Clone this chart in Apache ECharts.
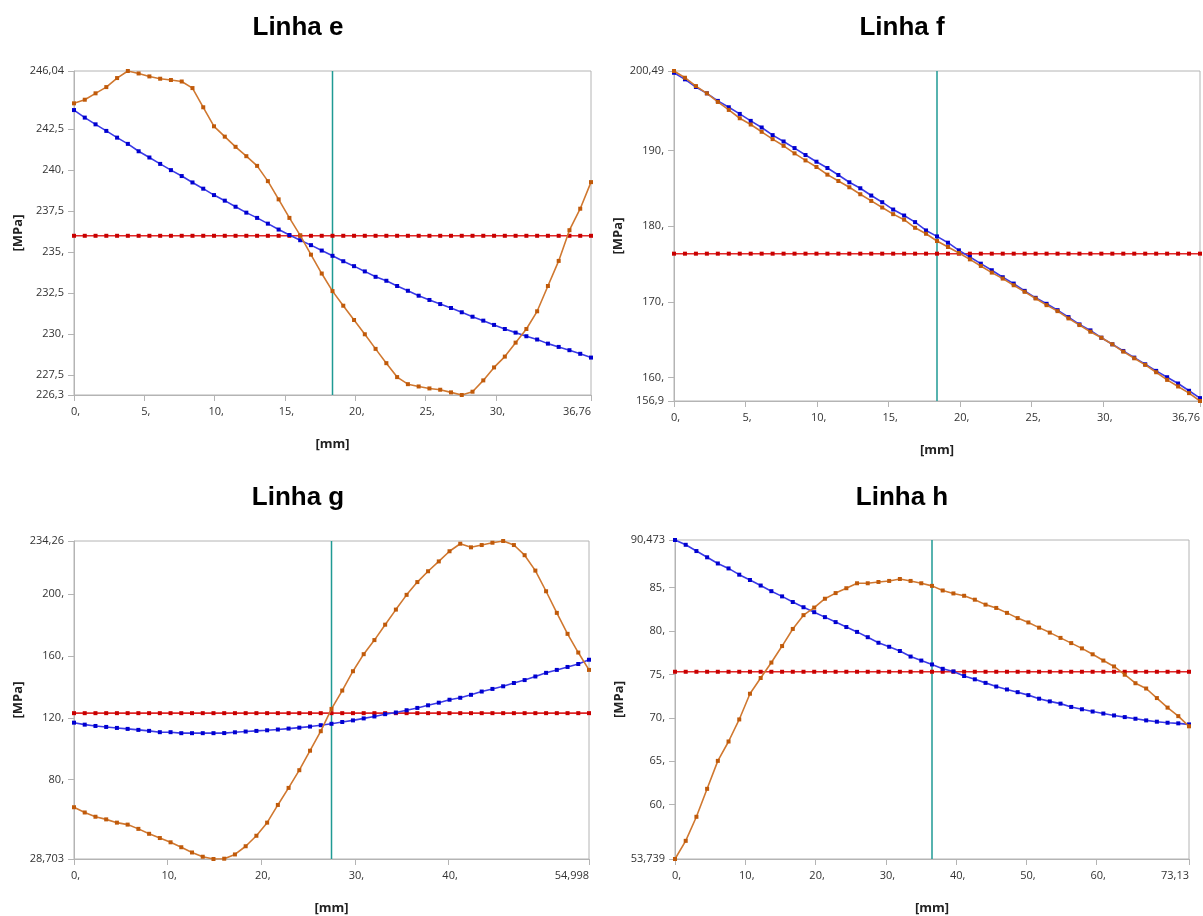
<!DOCTYPE html>
<html>
<head>
<meta charset="utf-8">
<title>Linhas e-h</title>
<script src="https://cdn.jsdelivr.net/npm/echarts@6/dist/echarts.min.js"></script>
<style>
  html, body { margin: 0; padding: 0; background: #fff; }
  #chart { width: 1203px; height: 916px; }
</style>
</head>
<body>
<div id="chart"></div>
<script>
// panel titles
const titles = ['Linha e', 'Linha f', 'Linha g', 'Linha h'];

// x length of each line [mm] (49 samples each)
const lengths = [36.76, 36.76, 54.998, 73.13];

// y axis limits [MPa]
const yMins = [226.3, 156.9, 28.703, 53.739];
const yMaxs = [246.04, 200.49, 234.26, 90.473];

// tick labels
const xTicksE = [0, 5, 10, 15, 20, 25, 30, 36.76];
const xTicksF = [0, 5, 10, 15, 20, 25, 30, 36.76];
const xTicksG = [0, 10, 20, 30, 40, 54.998];
const xTicksH = [0, 10, 20, 30, 40, 50, 60, 73.13];
const yTicksE = [226.3, 227.5, 230, 232.5, 235, 237.5, 240, 242.5, 246.04];
const yTicksF = [156.9, 160, 170, 180, 190, 200.49];
const yTicksG = [28.703, 80, 120, 160, 200, 234.26];
const yTicksH = [53.739, 60, 65, 70, 75, 80, 85, 90.473];

// orange curves
const orangeE = [244.07, 244.29, 244.68, 245.06, 245.61, 246.04, 245.89, 245.71, 245.57, 245.49,
  245.40, 245.00, 243.83, 242.67, 242.04, 241.42, 240.85, 240.26, 239.33, 238.22,
  237.09, 236.03, 234.85, 233.70, 232.63, 231.74, 230.87, 230.00, 229.11, 228.24,
  227.39, 226.96, 226.82, 226.70, 226.62, 226.46, 226.30, 226.50, 227.19, 227.98,
  228.64, 229.49, 230.32, 231.40, 232.94, 234.47, 236.34, 237.65, 239.27];
const orangeF = [200.49, 199.60, 198.50, 197.54, 196.40, 195.35, 194.25, 193.42, 192.46, 191.49,
  190.61, 189.61, 188.68, 187.81, 186.80, 185.96, 185.13, 184.21, 183.33, 182.46,
  181.58, 180.85, 179.78, 178.99, 178.03, 177.24, 176.45, 175.61, 174.74, 173.86,
  173.07, 172.19, 171.32, 170.44, 169.56, 168.77, 167.81, 166.93, 166.05, 165.26,
  164.39, 163.42, 162.54, 161.67, 160.70, 159.69, 158.82, 157.94, 156.90];
const orangeG = [62.16, 58.77, 56.02, 54.32, 52.20, 50.93, 48.18, 45.00, 42.25, 39.49,
  36.31, 32.92, 30.17, 28.703, 28.90, 31.65, 36.95, 43.73, 52.20, 63.64,
  74.66, 86.10, 98.70, 111.31, 125.72, 137.58, 150.08, 161.10, 170.21, 180.17,
  189.92, 199.45, 207.71, 214.70, 221.06, 227.63, 232.50, 230.17, 231.65, 233.14,
  234.26, 231.65, 225.08, 215.13, 201.78, 187.80, 174.24, 162.16, 150.93];
const orangeH = [53.739, 55.83, 58.60, 61.82, 65.04, 67.27, 69.81, 72.77, 74.58, 76.36,
  78.26, 80.23, 81.82, 82.69, 83.71, 84.36, 84.92, 85.49, 85.49, 85.64,
  85.76, 85.98, 85.76, 85.49, 85.19, 84.66, 84.32, 84.05, 83.60, 83.03,
  82.65, 82.08, 81.48, 80.98, 80.38, 79.81, 79.20, 78.60, 77.99, 77.31,
  76.59, 75.91, 74.96, 73.98, 73.37, 72.27, 71.17, 70.19, 69.02];

// blue curves
const blueE = [243.66, 243.20, 242.79, 242.39, 241.98, 241.60, 241.15, 240.77, 240.38, 240.00,
  239.64, 239.25, 238.87, 238.48, 238.14, 237.77, 237.41, 237.09, 236.74, 236.38,
  236.05, 235.73, 235.43, 235.10, 234.78, 234.45, 234.15, 233.83, 233.50, 233.26,
  232.94, 232.65, 232.35, 232.09, 231.84, 231.60, 231.34, 231.07, 230.83, 230.57,
  230.32, 230.10, 229.88, 229.68, 229.43, 229.23, 229.03, 228.81, 228.58];
const blueF = [200.26, 199.39, 198.38, 197.54, 196.54, 195.70, 194.82, 193.90, 193.03, 192.02,
  191.18, 190.31, 189.39, 188.51, 187.68, 186.75, 185.79, 185.00, 184.04, 183.16,
  182.19, 181.40, 180.53, 179.43, 178.64, 177.81, 176.80, 175.92, 175.04, 174.17,
  173.25, 172.41, 171.45, 170.53, 169.74, 168.90, 167.98, 167.02, 166.23, 165.26,
  164.39, 163.51, 162.63, 161.75, 160.88, 160.04, 159.21, 158.25, 157.28];
const blueG = [116.82, 115.55, 114.70, 114.07, 113.43, 112.80, 112.16, 111.53, 110.68, 110.68,
  110.04, 110.04, 110.04, 110.04, 110.10, 110.60, 111.10, 111.50, 111.90, 112.40,
  113.00, 113.60, 114.30, 115.20, 116.10, 117.25, 118.31, 119.58, 120.85, 122.33,
  123.39, 124.87, 126.36, 128.05, 129.75, 131.65, 132.92, 134.83, 136.95, 138.64,
  140.34, 142.46, 144.36, 146.69, 149.03, 150.93, 152.84, 154.75, 157.50];
const blueH = [90.473, 89.92, 89.20, 88.48, 87.77, 87.20, 86.48, 85.87, 85.23, 84.58,
  83.98, 83.33, 82.73, 82.16, 81.59, 81.02, 80.45, 79.89, 79.28, 78.64,
  78.18, 77.69, 77.05, 76.59, 76.14, 75.64, 75.34, 74.81, 74.43, 74.02,
  73.60, 73.26, 72.95, 72.61, 72.20, 71.89, 71.63, 71.25, 70.98, 70.72,
  70.49, 70.27, 70.08, 69.89, 69.70, 69.55, 69.43, 69.36, 69.24];

// red constant levels and the teal cursor position
const redLevels = [236.0, 176.36, 122.97, 75.30];
const cursorX = [18.38, 18.38, 27.5, 36.565];

const panels = [
  { xt: xTicksE, yt: yTicksE, orange: orangeE, blue: blueE },
  { xt: xTicksF, yt: yTicksF, orange: orangeF, blue: blueF },
  { xt: xTicksG, yt: yTicksG, orange: orangeG, blue: blueG },
  { xt: xTicksH, yt: yTicksH, orange: orangeH, blue: blueH }
];

// layout of the four plot boxes (px)
const boxes = [
  { left: 74, top: 71, width: 517, height: 324, cx: 293, ty: 10 },
  { left: 674, top: 71, width: 528, height: 330, cx: 897, ty: 10 },
  { left: 74, top: 541, width: 515, height: 324, cx: 293, ty: 480 },
  { left: 675, top: 540, width: 514, height: 324, cx: 897, ty: 480 }
];

const AXIS_GREY = '#b4b4b4';
const FONT = '"Open Sans", "Noto Sans", sans-serif';

function fmt(v) {
  return Number.isInteger(v) ? v + ',' : String(v).replace('.', ',');
}

// pair each value with its sample position along the line
function toPoints(values, len) {
  const step = len / (values.length - 1);
  return values.map((v, i) => [i * step, v]);
}

const chart = echarts.init(document.getElementById('chart'), null, { renderer: 'canvas' });

const option = {
  animation: false,
  backgroundColor: '#fff',
  title: [],
  grid: [],
  xAxis: [],
  yAxis: [],
  series: []
};

panels.forEach((p, i) => {
  const b = boxes[i];
  const len = lengths[i];

  option.title.push({
    text: titles[i],
    left: b.cx,
    top: b.ty,
    textAlign: 'center',
    textStyle: { fontFamily: 'Liberation Sans, Arial, sans-serif', fontWeight: 'bold', fontSize: 26, color: '#000' }
  });

  option.grid.push({
    left: b.left, top: b.top, width: b.width, height: b.height,
    show: true, borderColor: AXIS_GREY, borderWidth: 1, containLabel: false
  });

  option.xAxis.push({
    gridIndex: i,
    type: 'value',
    min: 0,
    max: len,
    name: '[mm]',
    nameLocation: 'middle',
    nameGap: 43,
    nameTextStyle: { fontFamily: FONT, fontWeight: 'bold', fontSize: 13, color: '#222' },
    axisLine: { show: true, lineStyle: { color: AXIS_GREY } },
    axisTick: { show: true, length: 6, customValues: p.xt, lineStyle: { color: AXIS_GREY } },
    axisLabel: {
      customValues: p.xt, formatter: fmt, color: '#333', fontFamily: FONT, fontSize: 11,
      margin: 11, padding: [0, 0, 0, 3], alignMaxLabel: 'right'
    },
    splitLine: { show: false }
  });

  option.yAxis.push({
    gridIndex: i,
    type: 'value',
    min: yMins[i],
    max: yMaxs[i],
    name: '[MPa]',
    nameLocation: 'middle',
    nameGap: 49,
    nameTextStyle: { fontFamily: FONT, fontWeight: 'bold', fontSize: 13, color: '#222' },
    axisLine: { show: true, lineStyle: { color: AXIS_GREY } },
    axisTick: { show: true, length: 6, customValues: p.yt, lineStyle: { color: AXIS_GREY } },
    axisLabel: { customValues: p.yt, formatter: fmt, color: '#333', fontFamily: FONT, fontSize: 11, margin: 10 },
    splitLine: { show: false }
  });

  // teal cursor line
  option.series.push({
    type: 'line', xAxisIndex: i, yAxisIndex: i,
    data: [[cursorX[i], yMins[i]], [cursorX[i], yMaxs[i]]],
    symbol: 'none', silent: true,
    lineStyle: { color: '#1f9a94', width: 1.5 },
    z: 1
  });

  // red constant level
  option.series.push({
    type: 'line', xAxisIndex: i, yAxisIndex: i,
    data: toPoints(p.orange.map(() => redLevels[i]), len),
    symbol: 'rect', symbolSize: 4, showSymbol: true,
    itemStyle: { color: '#c80000' },
    lineStyle: { color: '#e02828', width: 1.6 },
    z: 2
  });

  option.series.push({
    type: 'line', xAxisIndex: i, yAxisIndex: i,
    data: toPoints(p.blue, len),
    symbol: 'rect', symbolSize: 4, showSymbol: true,
    itemStyle: { color: '#0000d0' },
    lineStyle: { color: '#3a3ae6', width: 1.6 },
    z: 3
  });

  option.series.push({
    type: 'line', xAxisIndex: i, yAxisIndex: i,
    data: toPoints(p.orange, len),
    symbol: 'rect', symbolSize: 4, showSymbol: true,
    itemStyle: { color: '#c05a0a' },
    lineStyle: { color: '#d07830', width: 1.6 },
    z: 4
  });
});

chart.setOption(option);
</script>
</body>
</html>
